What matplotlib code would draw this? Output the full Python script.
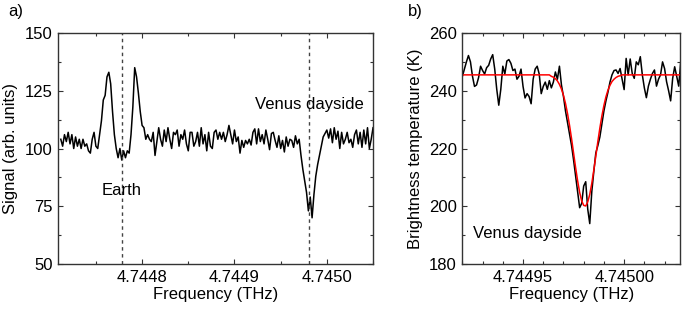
import numpy as np
import matplotlib
matplotlib.use('Agg')
import matplotlib.pyplot as plt
from matplotlib.ticker import MultipleLocator, FormatStrFormatter

plt.rcParams['font.family'] = ['Liberation Sans', 'DejaVu Sans']
plt.rcParams['font.size'] = 12

# panel a: spectrum, uniform frequency grid (THz)
freq_a_start = 4.744712
freq_a_step = 2e-6
signal_a = [
    104, 101, 106, 103, 107, 102, 106, 100, 105, 101,
    104, 100, 104, 101, 102, 99, 98, 104, 107, 101,
    100, 106, 112, 121, 123, 131, 133, 128, 116, 106,
    100, 96, 100, 95, 99, 96, 99, 98, 106, 118,
    135, 131, 124, 116, 110, 109, 104, 106, 104, 103,
    107, 97, 103, 109, 104, 101, 108, 103, 109, 104,
    100, 107, 106, 108, 101, 106, 104, 108, 102, 99,
    107, 107, 101, 103, 107, 101, 109, 102, 106, 99,
    107, 101, 100, 107, 108, 104, 107, 104, 107, 103,
    106, 110, 106, 102, 108, 103, 105, 98, 103.5, 100.5,
    103.5, 102, 104, 101.5, 107, 108.5, 102, 108.5, 103, 106,
    102, 108, 104, 99.5, 106.5, 107, 103.5, 100.5, 105.5, 100,
    103.5, 98.5, 105, 101, 104, 103.5, 100.5, 105.5, 102, 104,
    97, 91, 86, 81, 73, 79, 70, 80, 88, 93,
    97, 101, 105, 106.5, 108, 104.5, 108.5, 102.5, 109, 104,
    107.5, 100, 107, 102, 104, 107, 102.5, 104, 100.5, 106,
    108, 102, 107, 100.5, 108, 102, 109, 100, 104, 109,
]
earth_line = 4.744778
venus_line = 4.744981

# panel b: zoom on the Venus line
freq_b_start = 4.744920
freq_b_step = 1e-6
temp_b = [
    245.0, 247.5, 250.0, 252.2, 250.0, 245.0, 241.5, 242.0, 244.5, 248.5,
    247.0, 245.8, 248.0, 248.8, 251.0, 252.5, 247.5, 240.5, 235.0, 240.5,
    248.5, 245.8, 250.3, 250.8, 249.5, 247.0, 247.5, 244.0, 245.0, 247.5,
    241.5, 237.5, 239.0, 238.0, 235.5, 244.0, 247.5, 248.5, 245.8, 239.0,
    241.5, 243.0, 240.5, 243.5, 241.0, 243.0, 246.5, 244.0, 248.5, 242.0,
    238.0, 233.0, 229.0, 225.0, 221.0, 216.0, 210.5, 205.0, 199.5, 201.0,
    207.0, 208.5, 199.0, 194.0, 205.0, 212.0, 218.5, 221.0, 224.0, 228.5,
    233.0, 236.5, 239.5, 243.0, 245.5, 247.0, 247.2, 246.0, 247.7, 244.0,
    240.4, 251.2, 245.5, 251.0, 246.0, 244.3, 250.0, 249.0, 251.8, 245.5,
    241.0, 237.6, 241.6, 244.0, 246.0, 247.2, 241.6, 244.0, 245.5, 250.0,
    247.7, 243.1, 240.0, 236.5, 244.3, 248.3, 245.0, 241.6, 250.0,
]
fit_b = [245.5] * 44 + [
    245.0, 244.7, 244.2, 243.4, 242.2, 240.6, 238.4, 235.6, 232.1, 228.0,
    223.4, 218.4, 213.4, 208.8, 204.8, 201.9, 200.3, 200.1, 201.5, 204.1,
    207.9, 212.5, 217.4, 222.4, 227.1, 231.3, 234.9, 237.9, 240.2, 241.9,
    243.2, 244.0, 244.6, 245.0, 245.2,
] + [245.5] * 30

freq_a = freq_a_start + freq_a_step * np.arange(len(signal_a))
freq_b = freq_b_start + freq_b_step * np.arange(len(temp_b))

fig = plt.figure(figsize=(6.85, 3.09), dpi=100)
axa = fig.add_axes([0.0847, 0.1456, 0.4599, 0.7476])
axb = fig.add_axes([0.675, 0.1456, 0.3182, 0.7476])

for ax in (axa, axb):
    ax.tick_params(which='both', direction='in', top=True, right=True,
                   width=0.8, color='#333333', pad=4)
    ax.tick_params(which='major', length=3.5)
    ax.tick_params(which='minor', length=2)
    for s in ax.spines.values():
        s.set_color('#333333')
        s.set_linewidth(1.0)

# a)
axa.plot(freq_a, signal_a, color='black', lw=1.1)
axa.axvline(earth_line, color='#444444', lw=1, ls=(0, (2.5, 2.5)))
axa.axvline(venus_line, color='#444444', lw=1, ls=(0, (2.5, 2.5)))
axa.set_xlim(4.744709, 4.745050)
axa.set_ylim(50, 150)
axa.xaxis.set_major_locator(MultipleLocator(1e-4))
axa.xaxis.set_minor_locator(MultipleLocator(5e-5))
axa.xaxis.set_major_formatter(FormatStrFormatter('%.4f'))
axa.yaxis.set_major_locator(MultipleLocator(25))
axa.yaxis.set_minor_locator(MultipleLocator(12.5))
axa.set_xlabel('Frequency (THz)', labelpad=2)
axa.set_ylabel('Signal (arb. units)', labelpad=5)
axa.text(earth_line, 82, 'Earth', ha='center', va='center')
axa.text(venus_line, 119, 'Venus dayside', ha='center', va='center')

# b)
axb.plot(freq_b, temp_b, color='black', lw=1.1)
axb.plot(freq_b, fit_b, color='red', lw=1.1)
axb.set_xlim(4.744920, 4.7450278)
axb.set_ylim(180, 260)
axb.xaxis.set_major_locator(MultipleLocator(5e-5))
axb.xaxis.set_minor_locator(MultipleLocator(1e-5))
axb.xaxis.set_major_formatter(FormatStrFormatter('%.5f'))
axb.yaxis.set_major_locator(MultipleLocator(20))
axb.yaxis.set_minor_locator(MultipleLocator(10))
axb.set_xlabel('Frequency (THz)', labelpad=2)
axb.set_ylabel('Brightness temperature (K)', labelpad=4)
axb.text(4.7449253, 190.7, 'Venus dayside', ha='left', va='center')

fig.text(0.012, 0.962, 'a)', ha='left', va='center')
fig.text(0.596, 0.962, 'b)', ha='left', va='center')

plt.savefig('out.png', dpi=100)
